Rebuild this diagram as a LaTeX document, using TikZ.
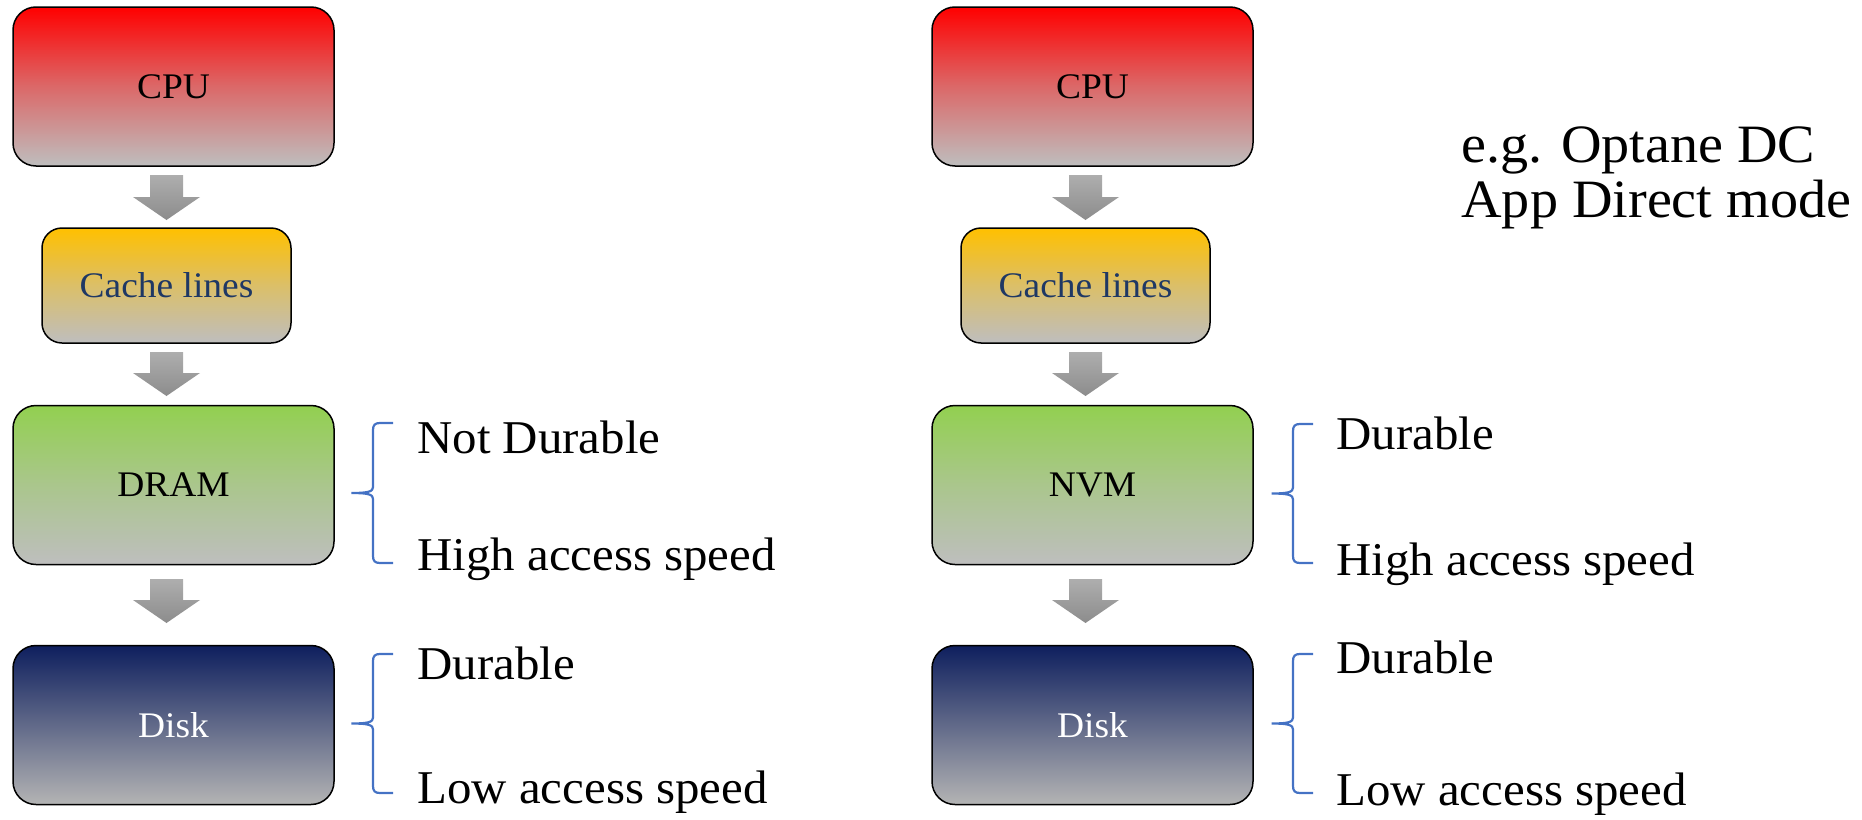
\documentclass[tikz,border=0pt]{standalone}
\usepackage{fontspec}
\setmainfont{Liberation Serif}[FakeStretch=1.04]
\usetikzlibrary{calc}

\definecolor{cpuTop}{HTML}{FF0000}
\definecolor{cacheTop}{HTML}{FFC000}
\definecolor{memTop}{HTML}{92D050}
\definecolor{diskTop}{HTML}{0E1F5E}
\definecolor{boxGray}{HTML}{BEBEBE}
\definecolor{diskGray}{HTML}{B4B4B4}
\definecolor{arrTop}{HTML}{AEAEAE}
\definecolor{arrBot}{HTML}{8C8C8C}
\definecolor{braceBlue}{HTML}{4472C4}
\definecolor{cacheText}{HTML}{1F3864}

\tikzset{
  box/.style={draw=black, line width=0.75pt, rounded corners=11.5pt, inner sep=0pt,
    minimum width=160.5pt, minimum height=79.5pt,
    font=\fontsize{18}{21}\selectfont},
  cachebox/.style={box, minimum width=124.5pt, minimum height=57.5pt,
    rounded corners=10pt, text=cacheText},
  fade/.style={top color=#1, bottom color=boxGray, middle color=#1!45!boxGray},
  diskfade/.style={top color=diskTop, bottom color=diskGray,
    middle color=diskTop!50!diskGray, text=white},
  label/.style={anchor=base west, inner sep=0pt, font=\fontsize{23.5}{28}\selectfont},
  % gray block arrow pointing down from the start point to the target (its tip)
  blockdown/.style={top color=arrTop, bottom color=arrBot, to path={
    let \p1=(\tikztostart), \p2=(\tikztotarget) in
    (\x1-8.25pt,\y1) -- (\x1+8.25pt,\y1) -- (\x1+8.25pt,\y2+11.5pt)
    -- (\x1+16.75pt,\y2+11.5pt) -- (\x2,\y2) -- (\x1-16.75pt,\y2+11.5pt)
    -- (\x1-8.25pt,\y2+11.5pt) -- cycle}},
  % left curly brace from the end of its top arm to the end of its bottom arm
  lbrace/.style={draw=braceBlue, line width=1.1pt, to path={
    let \p1=(\tikztostart), \p2=(\tikztotarget),
        \p3=($(\tikztostart)!0.5!(\tikztotarget)$) in
    (\x1,\y1) -- (\x1-6.5pt,\y1)
    .. controls (\x1-9pt,\y1) and (\x1-10pt,\y1-1pt) .. (\x1-10pt,\y1-3.5pt)
    -- (\x1-10pt,\y3+3pt)
    .. controls (\x1-10pt,\y3+0.8pt) and (\x1-12pt,\y3) .. (\x1-20.75pt,\y3)
    .. controls (\x1-12pt,\y3) and (\x1-10pt,\y3-0.8pt) .. (\x1-10pt,\y3-3pt)
    -- (\x1-10pt,\y2+3.5pt)
    .. controls (\x1-10pt,\y2+1pt) and (\x1-9pt,\y2) .. (\x1-6.5pt,\y2)
    -- (\x2,\y2)}}
}

\begin{document}
\begin{tikzpicture}[x=0.5pt, y=-0.5pt]
\useasboundingbox (0,0) rectangle (1862,819);

% ---------- left stack: DRAM hierarchy ----------
\node[box, fade=cpuTop] (cpuL) at (173.5,86.5) {CPU};
\node[cachebox, fade=cacheTop] (cacheL) at (166.5,285.5) {Cache lines};
\node[box, fade=memTop] (dramL) at (173.5,485) {DRAM};
\node[box, diskfade] (diskL) at (173.5,725) {Disk};

\coordinate (a1s) at (166.5,175); \coordinate (a1e) at (166.5,220);
\coordinate (a2s) at (166.5,352); \coordinate (a2e) at (166.5,396);
\coordinate (a3s) at (166.5,579); \coordinate (a3e) at (166.5,623);
\path[blockdown] (a1s) to (a1e);
\path[blockdown] (a2s) to (a2e);
\path[blockdown] (a3s) to (a3e);

\coordinate (b1t) at (393,423); \coordinate (b1b) at (393,563);
\coordinate (b2t) at (393,654); \coordinate (b2b) at (393,793);
\draw[lbrace] (b1t) to (b1b);
\draw[lbrace] (b2t) to (b2b);

\node[label] (ndL) at (417,453) {Not Durable};
\node[label] (hsL) at (417,570) {High access speed};
\node[label] (duL) at (417,679) {Durable};
\node[label] (lsL) at (417,803) {Low access speed};

% ---------- right stack: NVM hierarchy ----------
\node[box, fade=cpuTop] (cpuR) at (1092.5,86.5) {CPU};
\node[cachebox, fade=cacheTop] (cacheR) at (1085.5,285.5) {Cache lines};
\node[box, fade=memTop] (nvmR) at (1092.5,485) {NVM};
\node[box, diskfade] (diskR) at (1092.5,725) {Disk};

\coordinate (c1s) at (1085.5,175); \coordinate (c1e) at (1085.5,220);
\coordinate (c2s) at (1085.5,352); \coordinate (c2e) at (1085.5,396);
\coordinate (c3s) at (1085.5,579); \coordinate (c3e) at (1085.5,623);
\path[blockdown] (c1s) to (c1e);
\path[blockdown] (c2s) to (c2e);
\path[blockdown] (c3s) to (c3e);

\coordinate (d1t) at (1313,424); \coordinate (d1b) at (1313,563);
\coordinate (d2t) at (1313,654); \coordinate (d2b) at (1313,793);
\draw[lbrace] (d1t) to (d1b);
\draw[lbrace] (d2t) to (d2b);

\node[label] (duR) at (1336,449) {Durable};
\node[label] (hsR) at (1336,575) {High access speed};
\node[label] (du2R) at (1336,673) {Durable};
\node[label] (lsR) at (1336,805) {Low access speed};

% the base anchor of a two-line node sits on its last line
\node[anchor=base west, inner sep=0pt, align=left,
      font=\fontsize{27}{27.5}\selectfont] (note) at (1461,217)
  {e.g. Optane DC\\App Direct mode};
\end{tikzpicture}
\end{document}
